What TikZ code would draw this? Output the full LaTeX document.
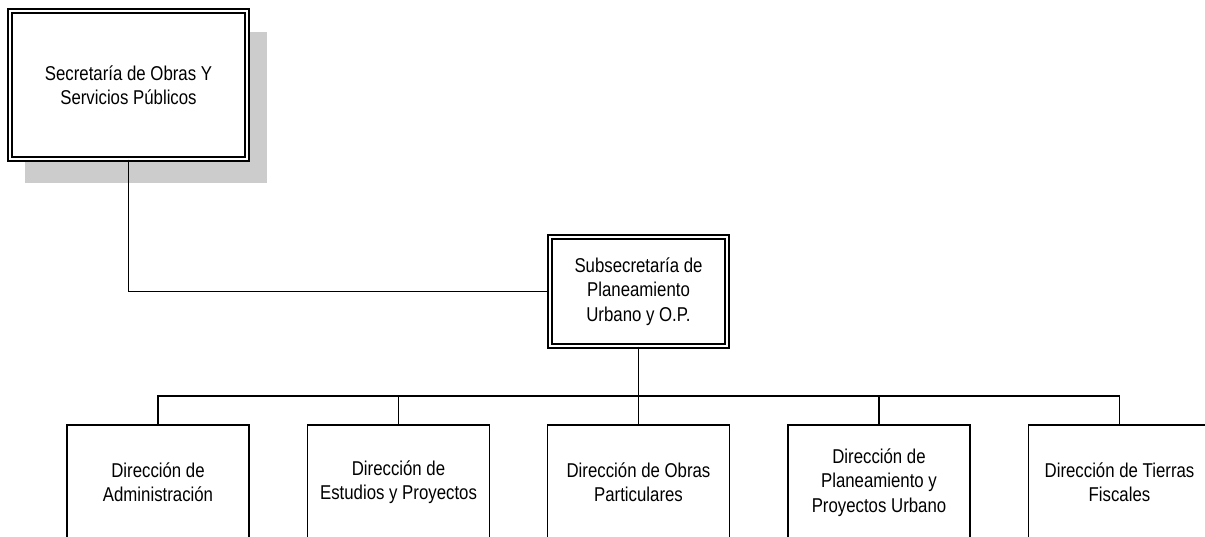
\documentclass[tikz,border=0pt]{standalone}
\usepackage{fontspec}
\setmainfont{Liberation Sans}[FakeStretch=0.84]
\usetikzlibrary{shadows}

\tikzset{
  orgtext/.style={font=\fontsize{20}{24.5}\selectfont, align=center, text=black},
  headbox/.style={orgtext, draw=black, fill=white, line width=1.4pt,
    double=white, double distance=2.6pt, inner sep=0pt},
  unitbox/.style={orgtext, draw=black, fill=white, line width=1.5pt,
    minimum width=182pt, minimum height=115pt, inner sep=0pt, anchor=north},
  link/.style={draw=black, line width=1.5pt},
  trunk/.style={draw=black, line width=2.4pt}
}

\begin{document}
\begin{tikzpicture}[x=1pt, y=-1pt]
  \useasboundingbox (0,0) rectangle (1205,536);

  % top level: secretariat with its drop shadow
  \node[headbox, minimum width=237pt, minimum height=148pt,
        drop shadow={shadow xshift=17pt, shadow yshift=-22pt, shadow scale=1.02,
                     fill=black!20, opacity=1}]
    (sec) at (128.5,85) {Secretaría de Obras Y\\Servicios Públicos};

  % second level
  \node[headbox, minimum width=177pt, minimum height=109pt]
    (sub) at (638.5,291.5) {Subsecretaría de\\Planeamiento\\Urbano y O.P.};

  % directorates
  \node[unitbox] (d1) at (158,424)    {Dirección de\\Administración};
  \node[unitbox] (d2) at (398.5,424)  {Dirección de\\Estudios y Proyectos};
  \node[unitbox] (d3) at (638.5,424)  {Dirección de Obras\\Particulares};
  \node[unitbox] (d4) at (879,424)    {Dirección de\\Planeamiento y\\Proyectos Urbano};
  \node[unitbox] (d5) at (1119.5,424) {Dirección de Tierras\\Fiscales};

  % connectors
  \coordinate (bus) at (638.5,396);
  \draw[link] (sec.south) |- (sub.west);
  \draw[link] (sub.south) -- (bus);
  \foreach \d in {d1,d2,d3,d4,d5}
    \draw[link] (bus) -| (\d.north);
  \draw[trunk] (d2.north |- bus) -- (d4.north |- bus);
\end{tikzpicture}
\end{document}
